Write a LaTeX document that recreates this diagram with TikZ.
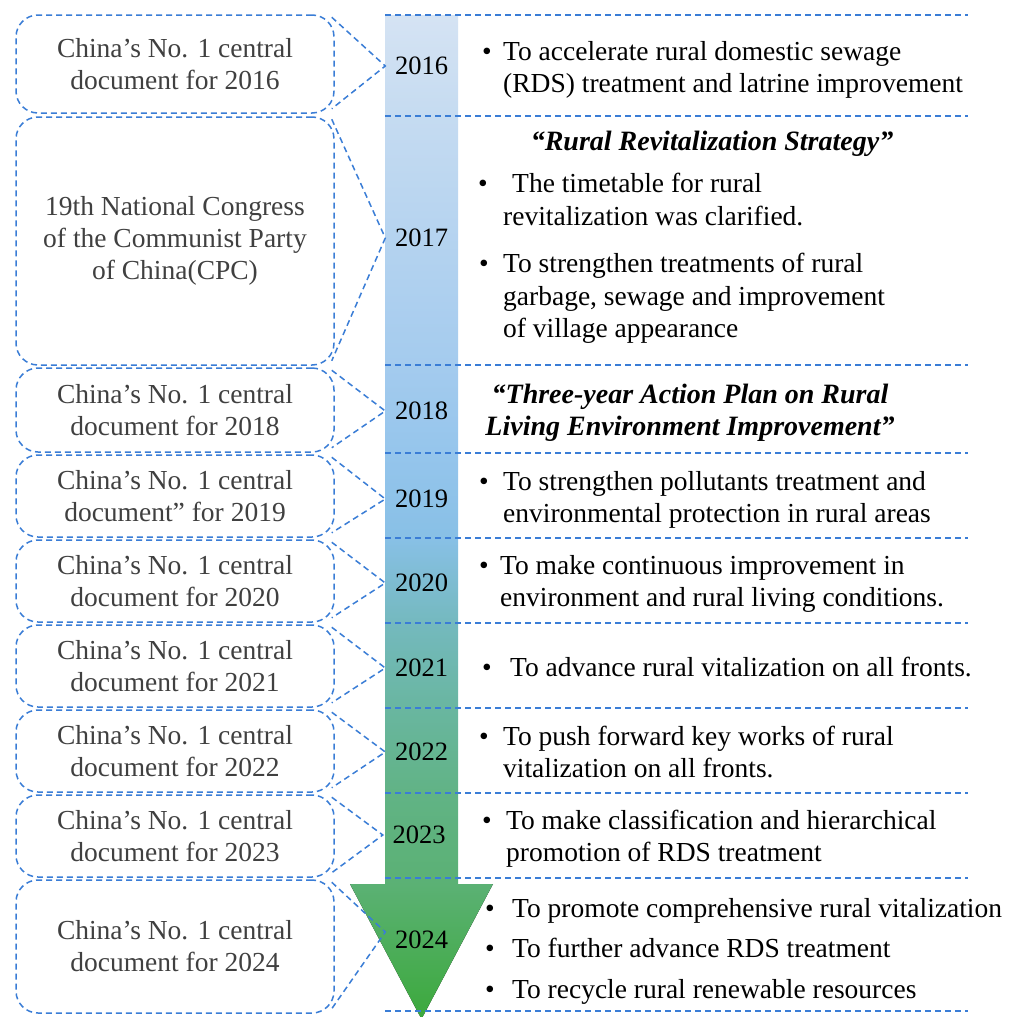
\documentclass[tikz,border=0pt]{standalone}
\usepackage{fontspec}
\setmainfont{Liberation Serif}
\definecolor{dashc}{HTML}{3A7DD6}
\definecolor{lefttext}{HTML}{404040}
\definecolor{g0}{HTML}{D5E3F3}
\definecolor{g1}{HTML}{C5DBF1}
\definecolor{g2}{HTML}{A4CBEE}
\definecolor{g3}{HTML}{95C5EC}
\definecolor{g4}{HTML}{88C0E6}
\definecolor{g5}{HTML}{74B9BE}
\definecolor{g6}{HTML}{69B6A0}
\definecolor{g7}{HTML}{61B385}
\definecolor{g8}{HTML}{5BB174}
\definecolor{g9}{HTML}{3CA93C}
\begin{document}
\begin{tikzpicture}[x=1pt,y=-1pt,
  dline/.style={draw=dashc, line width=1.5pt, dash pattern=on 6pt off 4pt},
  lbox/.style={dline, rounded corners=22pt, minimum width=318pt, align=center,
    text=lefttext, font=\fontsize{27.5}{32}\selectfont, inner sep=0pt},
  rtxt/.style={text=black, font=\fontsize{27.5}{32}\selectfont, anchor=base west, inner sep=0pt},
  bul/.style={rtxt, anchor=base},
  ttl/.style={text=black, font=\fontsize{28}{32}\selectfont\bfseries\itshape, anchor=base, inner sep=0pt},
  yr/.style={font=\fontsize{26.5}{32}\selectfont, inner sep=0pt, minimum width=72pt, minimum height=20pt}
]
\useasboundingbox (0,0) rectangle (1018,1017);
\fill[white] (0,0) rectangle (1018,1017);

% gradient bar
\fill[top color=g0,bottom color=g1] (385,15) rectangle (458,116.5);
\fill[top color=g1,bottom color=g2] (385,116) rectangle (458,365.5);
\fill[top color=g2,bottom color=g3] (385,365) rectangle (458,453.5);
\fill[top color=g3,bottom color=g4] (385,453) rectangle (458,538.5);
\fill[top color=g4,bottom color=g5] (385,538) rectangle (458,623.5);
\fill[top color=g5,bottom color=g6] (385,623) rectangle (458,708.5);
\fill[top color=g6,bottom color=g7] (385,708) rectangle (458,793.5);
\fill[top color=g7,bottom color=g8] (385,793) rectangle (458,885);
\fill[top color=g8,bottom color=g9] (350,884) -- (493,884) -- (421.5,1019) -- cycle;

% year labels
\node[yr] (y1) at (421.5,66) {2016};
\node[yr] (y2) at (421.5,238) {2017};
\node[yr] (y3) at (421.5,411) {2018};
\node[yr] (y4) at (421.5,499) {2019};
\node[yr] (y5) at (421.5,583) {2020};
\node[yr] (y6) at (421.5,668) {2021};
\node[yr] (y7) at (421.5,752) {2022};
\node[yr] (y8) at (419,835) {2023};
\node[yr] (y9) at (421.5,940) {2024};

% left boxes
\node[lbox, minimum height=98pt] (b1) at (175,64) {China’s No. 1 central\\document for 2016};
\node[lbox, minimum height=248pt] (b2) at (175,241) {19th National Congress\\of the Communist Party\\of China(CPC)};
\node[lbox, minimum height=84pt] (b3) at (175,410) {China’s No. 1 central\\document for 2018};
\node[lbox, minimum height=82pt] (b4) at (175,496) {China’s No. 1 central\\document” for 2019};
\node[lbox, minimum height=82pt] (b5) at (175,581) {China’s No. 1 central\\document for 2020};
\node[lbox, minimum height=82pt] (b6) at (175,666) {China’s No. 1 central\\document for 2021};
\node[lbox, minimum height=82pt] (b7) at (175,751) {China’s No. 1 central\\document for 2022};
\node[lbox, minimum height=82pt] (b8) at (175,836) {China’s No. 1 central\\document for 2023};
\node[lbox, minimum height=133pt] (b9) at (175,946.5) {China’s No. 1 central\\document for 2024};

% callout wedges
\foreach \i in {1,...,8}{
  \draw[dline] ([shift={(-3,3)}]b\i.north east) -- (y\i.west) -- ([shift={(-3,-5)}]b\i.south east);
}
\draw[dline] ([shift={(-3,3)}]b9.north east) -- ([yshift=8]y9.west) -- ([shift={(-3,-5)}]b9.south east);

% horizontal separators
\foreach \yy in {15,116,365,453,538,623,708,793,878,1011}{
  \draw[dline] (385,\yy) -- (968,\yy);
}

% right texts
\node[bul] (p1) at (487,60) {•};
\node[rtxt] (r1a) at (503,60) {To accelerate rural domestic sewage};
\node[rtxt] (r1b) at (503,92) {(RDS) treatment and latrine improvement};

\node[ttl] (t2) at (712,150) {“Rural Revitalization Strategy”};
\node[bul] (p2a) at (483,192) {•};
\node[rtxt] (r2a) at (512,192) {The timetable for rural};
\node[rtxt] (r2b) at (503,225) {revitalization was clarified.};
\node[bul] (p2b) at (484,272) {•};
\node[rtxt] (r2c) at (503,272) {To strengthen treatments of rural};
\node[rtxt] (r2d) at (503,305) {garbage, sewage and improvement};
\node[rtxt] (r2e) at (503,337) {of village appearance};

\node[ttl] (t3a) at (690,403) {“Three-year Action Plan on Rural};
\node[ttl] (t3b) at (690,435) {Living Environment Improvement”};

\node[bul] (p4) at (484,490) {•};
\node[rtxt] (r4a) at (503,490) {To strengthen pollutants treatment and};
\node[rtxt] (r4b) at (503,522) {environmental protection in rural areas};

\node[bul] (p5) at (484,574) {•};
\node[rtxt] (r5a) at (500,574) {To make continuous improvement in};
\node[rtxt] (r5b) at (500,606) {environment and rural living conditions.};

\node[bul] (p6) at (487,676) {•};
\node[rtxt] (r6a) at (510,676) {To advance rural vitalization on all fronts.};

\node[bul] (p7) at (484,745) {•};
\node[rtxt] (r7a) at (503,745) {To push forward key works of rural};
\node[rtxt] (r7b) at (503,777) {vitalization on all fronts.};

\node[bul] (p8) at (487,829) {•};
\node[rtxt] (r8a) at (506,829) {To make classification and hierarchical};
\node[rtxt] (r8b) at (506,861) {promotion of RDS treatment};

\node[bul] (p9a) at (490,917) {•};
\node[rtxt] (r9a) at (512,917) {To promote comprehensive rural vitalization};
\node[bul] (p9b) at (490,957) {•};
\node[rtxt] (r9b) at (512,957) {To further advance RDS treatment};
\node[bul] (p9c) at (490,998) {•};
\node[rtxt] (r9c) at (512,998) {To recycle rural renewable resources};
\end{tikzpicture}
\end{document}
